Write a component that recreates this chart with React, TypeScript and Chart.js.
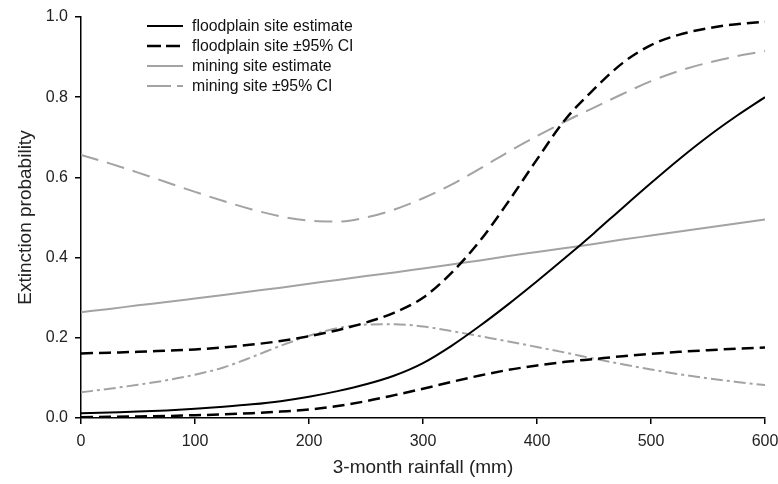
import { useEffect, useRef } from "react";
import { Chart, registerables } from "chart.js";
Chart.register(...registerables);

const rainfall = [0, 25, 50, 75, 100, 125, 150, 175, 200, 225, 250, 275, 300, 325, 350, 375, 400, 425, 450, 475, 500, 525, 550, 575, 600];
const floodplainEstimate = [0.012, 0.014, 0.016, 0.019, 0.023, 0.028, 0.034, 0.042, 0.053, 0.067, 0.084, 0.106, 0.137, 0.18, 0.23, 0.284, 0.341, 0.4, 0.461, 0.524, 0.586, 0.646, 0.702, 0.753, 0.8];
const floodplainUpper = [0.161, 0.163, 0.165, 0.168, 0.171, 0.176, 0.183, 0.192, 0.204, 0.219, 0.238, 0.263, 0.3, 0.362, 0.442, 0.54, 0.645, 0.745, 0.82, 0.885, 0.93, 0.956, 0.972, 0.982, 0.988];
const floodplainLower = [0.002, 0.003, 0.004, 0.005, 0.007, 0.009, 0.012, 0.016, 0.021, 0.03, 0.042, 0.057, 0.073, 0.09, 0.106, 0.12, 0.131, 0.14, 0.147, 0.154, 0.16, 0.165, 0.169, 0.173, 0.176];
const miningEstimate = [0.264, 0.272, 0.281, 0.289, 0.298, 0.307, 0.316, 0.325, 0.335, 0.344, 0.354, 0.363, 0.373, 0.383, 0.393, 0.404, 0.414, 0.424, 0.434, 0.445, 0.455, 0.465, 0.475, 0.485, 0.495];
const miningUpper = [0.656, 0.635, 0.612, 0.588, 0.564, 0.541, 0.52, 0.503, 0.492, 0.49, 0.5, 0.52, 0.548, 0.582, 0.622, 0.664, 0.703, 0.74, 0.774, 0.808, 0.84, 0.866, 0.886, 0.902, 0.915];
const miningLower = [0.064, 0.073, 0.083, 0.094, 0.108, 0.126, 0.152, 0.18, 0.205, 0.224, 0.233, 0.234, 0.228, 0.217, 0.204, 0.191, 0.177, 0.163, 0.148, 0.134, 0.121, 0.109, 0.099, 0.09, 0.082];

const yTicks = [0, 0.2, 0.4, 0.6, 0.8, 1.0];
const xTicks = [0, 100, 200, 300, 400, 500, 600];

const FONT = "'Liberation Sans', Arial, sans-serif";
const BLACK = "#000000";
const GRAY = "#a3a3a3";

const toPts = (ys: number[]) => ys.map((y, i) => ({ x: rainfall[i], y }));

const legendPlugin = {
  id: "customLegend",
  afterDatasetsDraw(chart: any) {
    const ctx = chart.ctx;
    const left = chart.chartArea.left;
    const top = chart.chartArea.top;
    ctx.save();
    ctx.font = `15.8px ${FONT}`;
    ctx.textBaseline = "middle";
    ctx.fillStyle = "#111";
    chart.data.datasets.forEach((ds: any) => {
      if (!ds.legendLabel) return;
      const y = top + 9 + ds.legendIndex * 20;
      ctx.beginPath();
      ctx.strokeStyle = ds.borderColor;
      ctx.lineWidth = ds.borderWidth;
      ctx.setLineDash(ds.legendDash || []);
      ctx.moveTo(left + 66, y);
      ctx.lineTo(left + 102, y);
      ctx.stroke();
      ctx.setLineDash([]);
      ctx.fillText(ds.legendLabel, left + 111, y + 1);
    });
    ctx.restore();
  },
};

export default function App() {
  const ref = useRef<HTMLCanvasElement>(null);
  useEffect(() => {
    document.body.style.margin = "0";
    const chart = new Chart(ref.current!, {
      type: "line",
      data: {
        datasets: [
          {
            label: "floodplain site estimate",
            legendLabel: "floodplain site estimate",
            legendIndex: 0,
            data: toPts(floodplainEstimate),
            borderColor: BLACK,
            borderWidth: 2,
          },
          {
            label: "floodplain site ±95% CI upper",
            legendLabel: "floodplain site ±95% CI",
            legendIndex: 1,
            legendDash: [14, 5],
            data: toPts(floodplainUpper),
            borderColor: BLACK,
            borderWidth: 2.5,
            borderDash: [12, 6],
          },
          {
            label: "floodplain site ±95% CI lower",
            data: toPts(floodplainLower),
            borderColor: BLACK,
            borderWidth: 2.5,
            borderDash: [12, 6],
          },
          {
            label: "mining site estimate",
            legendLabel: "mining site estimate",
            legendIndex: 2,
            data: toPts(miningEstimate),
            borderColor: GRAY,
            borderWidth: 2,
          },
          {
            label: "mining site ±95% CI upper",
            legendLabel: "mining site ±95% CI",
            legendIndex: 3,
            legendDash: [24, 6],
            data: toPts(miningUpper),
            borderColor: GRAY,
            borderWidth: 2,
            borderDash: [18, 9],
          },
          {
            label: "mining site ±95% CI lower",
            data: toPts(miningLower),
            borderColor: GRAY,
            borderWidth: 2,
            borderDash: [12, 4, 3, 4],
          },
        ] as any,
      },
      options: {
        animation: false,
        responsive: false,
        layout: { padding: { top: 17, right: 13, left: 0, bottom: 0 } },
        elements: {
          point: { radius: 0 },
          line: { cubicInterpolationMode: "monotone", fill: false },
        },
        plugins: { legend: { display: false }, tooltip: { enabled: false } },
        scales: {
          x: {
            type: "linear",
            min: 0,
            max: 600,
            afterBuildTicks: (s: any) => {
              s.ticks = xTicks.map((v) => ({ value: v }));
            },
            afterFit: (s: any) => {
              s.height = 66;
              s.paddingRight = 0;
              s.paddingLeft = 0;
            },
            border: { display: true, color: BLACK, width: 1.5 },
            grid: { display: true, drawOnChartArea: false, drawTicks: true, tickLength: 6, color: BLACK, lineWidth: 1.5 },
            ticks: { font: { family: FONT, size: 16 }, color: "#222", padding: 8, maxRotation: 0 },
            title: {
              display: true,
              text: "3-month rainfall (mm)",
              font: { family: FONT, size: 19 },
              color: "#222",
              padding: { bottom: 5 },
            },
          },
          y: {
            type: "linear",
            min: 0,
            max: 1,
            afterBuildTicks: (s: any) => {
              s.ticks = yTicks.map((v) => ({ value: v }));
            },
            afterFit: (s: any) => {
              s.width = 81;
              s.paddingTop = 0;
              s.paddingBottom = 0;
            },
            border: { display: true, color: BLACK, width: 1.5 },
            grid: { display: true, drawOnChartArea: false, drawTicks: true, tickLength: 6, color: BLACK, lineWidth: 1.5 },
            ticks: {
              font: { family: FONT, size: 16 },
              color: "#222",
              padding: 7,
              callback: (v: any) => Number(v).toFixed(1),
            },
            title: {
              display: true,
              text: "Extinction probability",
              font: { family: FONT, size: 19 },
              color: "#222",
              padding: { top: 14 },
            },
          },
        },
      },
      plugins: [legendPlugin],
    });
    return () => chart.destroy();
  }, []);
  return <canvas ref={ref} width={778} height={484} style={{ display: "block" }} />;
}
